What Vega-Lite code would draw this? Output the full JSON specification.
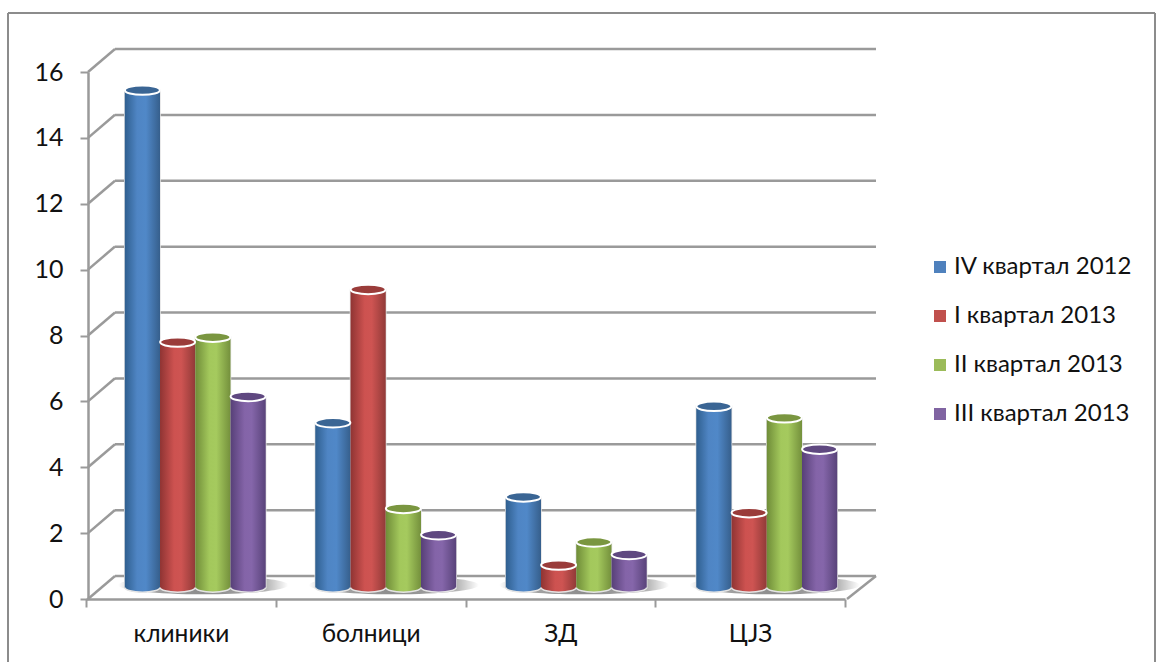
{"$schema":"https://vega.github.io/schema/vega-lite/v6.json","width":1147,"height":649,"padding":{"left":8,"top":13,"right":4,"bottom":0},"autosize":{"type":"none"},"background":"white","view":{"stroke":null},"config":{"font":"Lato","axis":{"grid":false,"title":null,"labelFont":"Lato","labelColor":"#111"}},"datasets":{"bars":[{"cat":"клиники","q":"IV квартал 2012","v":15.1},{"cat":"клиники","q":"I квартал 2013","v":7.45},{"cat":"клиники","q":"II квартал 2013","v":7.6},{"cat":"клиники","q":"III квартал 2013","v":5.8},{"cat":"болници","q":"IV квартал 2012","v":5.0},{"cat":"болници","q":"I квартал 2013","v":9.05},{"cat":"болници","q":"II квартал 2013","v":2.4},{"cat":"болници","q":"III квартал 2013","v":1.6},{"cat":"ЗД","q":"IV квартал 2012","v":2.75},{"cat":"ЗД","q":"I квартал 2013","v":0.68},{"cat":"ЗД","q":"II квартал 2013","v":1.38},{"cat":"ЗД","q":"III квартал 2013","v":1.0},{"cat":"ЦЈЗ","q":"IV квартал 2012","v":5.5},{"cat":"ЦЈЗ","q":"I квартал 2013","v":2.27},{"cat":"ЦЈЗ","q":"II квартал 2013","v":5.15},{"cat":"ЦЈЗ","q":"III квартал 2013","v":4.2}],"levels":[{"level":0,"back":0.7},{"level":2,"back":2.7},{"level":4,"back":4.7},{"level":6,"back":6.7},{"level":8,"back":8.7},{"level":10,"back":10.7},{"level":12,"back":12.7},{"level":14,"back":14.7},{"level":16,"back":16.7}],"frame":[{"a":0,"b":0,"c":0,"d":1},{"a":0,"b":1,"c":0,"d":0},{"a":1,"b":1,"c":0,"d":1}],"cats":[{"cat":"клиники"},{"cat":"болници"},{"cat":"ЗД"},{"cat":"ЦЈЗ"}]},"resolve":{"scale":{"x":"independent","y":"independent","xOffset":"independent"}},"layer":[{"data":{"name":"frame"},"mark":{"type":"rule","color":"#8c8c8c","strokeWidth":2,"clip":false},"encoding":{"x":{"field":"a","type":"quantitative","axis":null,"scale":{"domain":[0,1],"range":[0,1147],"nice":false,"zero":false}},"x2":{"field":"b"},"y":{"field":"c","type":"quantitative","axis":null,"scale":{"domain":[0,1],"range":[0,649],"nice":false,"zero":false}},"y2":{"field":"d"}}},{"data":{"name":"levels"},"mark":{"type":"rule","color":"#9a9a9a","strokeWidth":2.5},"encoding":{"x":{"datum":0,"type":"quantitative","axis":null,"scale":{"domain":[0,1],"range":[107,868],"nice":false,"zero":false}},"x2":{"datum":1},"y":{"field":"level","type":"quantitative","axis":null,"scale":{"domain":[0,16],"range":[563,36],"nice":false,"zero":false}}}},{"data":{"name":"levels"},"mark":{"type":"rule","color":"#9a9a9a","strokeWidth":2.5},"encoding":{"x":{"datum":0,"type":"quantitative","axis":null,"scale":{"domain":[0,1],"range":[80,107],"nice":false,"zero":false}},"x2":{"datum":1},"y":{"field":"level","type":"quantitative","scale":{"domain":[0,16],"range":[586,59],"nice":false,"zero":false},"axis":{"orient":"left","offset":-80,"values":[0,2,4,6,8,10,12,14,16],"tickSize":8,"tickWidth":2,"tickColor":"#9a9a9a","domainColor":"#9a9a9a","domainWidth":2.5,"labelFontSize":25,"labelPadding":17}},"y2":{"field":"back"}}},{"data":{"values":[{"level":0,"back":0.7}]},"mark":{"type":"rule","color":"#9a9a9a","strokeWidth":2.5},"encoding":{"x":{"datum":0,"type":"quantitative","axis":null,"scale":{"domain":[0,1],"range":[839,868],"nice":false,"zero":false}},"x2":{"datum":1},"y":{"field":"level","type":"quantitative","axis":null,"scale":{"domain":[0,16],"range":[586,59],"nice":false,"zero":false}},"y2":{"field":"back"}}},{"data":{"name":"cats"},"mark":{"type":"rule","opacity":0},"encoding":{"x":{"field":"cat","type":"nominal","sort":null,"scale":{"domain":["клиники","болници","ЗД","ЦЈЗ"],"range":[78,837]},"axis":{"orient":"bottom","offset":-63,"labelAngle":0,"tickBand":"extent","tickSize":8,"tickWidth":2,"tickColor":"#9a9a9a","domainColor":"#9a9a9a","domainWidth":2.5,"labelFontSize":24.5,"labelPadding":15}}}},{"data":{"name":"cats"},"mark":{"type":"point","filled":true,"opacity":1,"shape":"M-1,0A1,0.11,0,1,1,1,0A1,0.11,0,1,1,-1,0Z","fill":{"gradient":"radial","x1":0.5,"y1":0.5,"r1":0,"x2":0.5,"y2":0.5,"r2":0.5,"stops":[{"offset":0,"color":"#8a8a8a"},{"offset":0.7,"color":"#a8a8a8"},{"offset":1,"color":"#ffffff"}]}},"encoding":{"x":{"field":"cat","type":"nominal","sort":null,"axis":null,"scale":{"domain":["клиники","болници","ЗД","ЦЈЗ"],"range":[100,862]}},"y":{"datum":0,"type":"quantitative","axis":null,"scale":{"domain":[0,16],"range":[572,45],"nice":false,"zero":false}},"size":{"value":28900}}},{"data":{"name":"bars"},"mark":{"type":"bar","stroke":"#e4e4e4","strokeWidth":1.5},"encoding":{"x":{"field":"cat","type":"nominal","sort":null,"axis":null,"scale":{"domain":["клиники","болници","ЗД","ЦЈЗ"],"range":[92,854],"paddingInner":0.26,"paddingOuter":0.13}},"xOffset":{"field":"q","type":"nominal","sort":null,"scale":{"domain":["IV квартал 2012","I квартал 2013","II квартал 2013","III квартал 2013"]}},"y":{"field":"v","type":"quantitative","axis":null,"scale":{"domain":[0,16],"range":[574.5,47.5],"nice":false,"zero":false}},"fill":{"field":"q","type":"nominal","sort":null,"scale":{"domain":["IV квартал 2012","I квартал 2013","II квартал 2013","III квартал 2013"],"range":["#4f81bd","#c0504d","#9bbb59","#8064a2"]},"legend":{"title":null,"orient":"none","legendX":920,"legendY":242,"symbolType":"square","symbolSize":144,"symbolStrokeWidth":0,"labelFont":"Lato","labelFontSize":24,"labelColor":"#111","labelOffset":2,"rowPadding":25,"labelLimit":220}}}},{"data":{"name":"bars"},"mark":{"type":"point","filled":true,"opacity":1,"shape":"M-1,0A1,0.27,0,1,1,1,0A1,0.27,0,1,1,-1,0Z","stroke":"#e4e4e4","strokeWidth":1.5},"encoding":{"x":{"field":"cat","type":"nominal","sort":null,"axis":null,"scale":{"domain":["клиники","болници","ЗД","ЦЈЗ"],"range":[92,854],"paddingInner":0.26,"paddingOuter":0.13}},"xOffset":{"field":"q","type":"nominal","sort":null,"scale":{"domain":["IV квартал 2012","I квартал 2013","II квартал 2013","III квартал 2013"]}},"y":{"datum":0,"type":"quantitative","axis":null,"scale":{"domain":[0,16],"range":[574.5,47.5],"nice":false,"zero":false}},"size":{"value":1225},"fill":{"condition":[{"test":"datum.q==='IV квартал 2012'","value":{"gradient":"linear","x1":0,"y1":0,"x2":1,"y2":0,"stops":[{"offset":0,"color":"#2f5f8f"},{"offset":0.35,"color":"#4f85c4"},{"offset":0.6,"color":"#5088c8"},{"offset":1,"color":"#365f8c"}]}},{"test":"datum.q==='I квартал 2013'","value":{"gradient":"linear","x1":0,"y1":0,"x2":1,"y2":0,"stops":[{"offset":0,"color":"#8f3433"},{"offset":0.4,"color":"#cd5250"},{"offset":0.6,"color":"#ce5452"},{"offset":1,"color":"#913a38"}]}},{"test":"datum.q==='II квартал 2013'","value":{"gradient":"linear","x1":0,"y1":0,"x2":1,"y2":0,"stops":[{"offset":0,"color":"#6f8c38"},{"offset":0.4,"color":"#a3c85c"},{"offset":0.6,"color":"#a5ca5e"},{"offset":1,"color":"#74903c"}]}}],"value":{"gradient":"linear","x1":0,"y1":0,"x2":1,"y2":0,"stops":[{"offset":0,"color":"#574078"},{"offset":0.4,"color":"#8464a8"},{"offset":0.6,"color":"#8566aa"},{"offset":1,"color":"#59437a"}]}}}},{"data":{"name":"bars"},"mark":{"type":"bar","stroke":null},"encoding":{"x":{"field":"cat","type":"nominal","sort":null,"axis":null,"scale":{"domain":["клиники","болници","ЗД","ЦЈЗ"],"range":[92,854],"paddingInner":0.26,"paddingOuter":0.13}},"xOffset":{"field":"q","type":"nominal","sort":null,"scale":{"domain":["IV квартал 2012","I квартал 2013","II квартал 2013","III квартал 2013"]}},"y":{"field":"v","type":"quantitative","axis":null,"scale":{"domain":[0,16],"range":[574.5,47.5],"nice":false,"zero":false}},"fill":{"condition":[{"test":"datum.q==='IV квартал 2012'","value":{"gradient":"linear","x1":0,"y1":0,"x2":1,"y2":0,"stops":[{"offset":0,"color":"#2f5f8f"},{"offset":0.35,"color":"#4f85c4"},{"offset":0.6,"color":"#5088c8"},{"offset":1,"color":"#365f8c"}]}},{"test":"datum.q==='I квартал 2013'","value":{"gradient":"linear","x1":0,"y1":0,"x2":1,"y2":0,"stops":[{"offset":0,"color":"#8f3433"},{"offset":0.4,"color":"#cd5250"},{"offset":0.6,"color":"#ce5452"},{"offset":1,"color":"#913a38"}]}},{"test":"datum.q==='II квартал 2013'","value":{"gradient":"linear","x1":0,"y1":0,"x2":1,"y2":0,"stops":[{"offset":0,"color":"#6f8c38"},{"offset":0.4,"color":"#a3c85c"},{"offset":0.6,"color":"#a5ca5e"},{"offset":1,"color":"#74903c"}]}}],"value":{"gradient":"linear","x1":0,"y1":0,"x2":1,"y2":0,"stops":[{"offset":0,"color":"#574078"},{"offset":0.4,"color":"#8464a8"},{"offset":0.6,"color":"#8566aa"},{"offset":1,"color":"#59437a"}]}}}},{"data":{"name":"bars"},"mark":{"type":"point","filled":true,"opacity":1,"shape":"M-1,0A1,0.27,0,1,1,1,0A1,0.27,0,1,1,-1,0Z","stroke":"#ffffff","strokeWidth":2},"encoding":{"x":{"field":"cat","type":"nominal","sort":null,"axis":null,"scale":{"domain":["клиники","болници","ЗД","ЦЈЗ"],"range":[92,854],"paddingInner":0.26,"paddingOuter":0.13}},"xOffset":{"field":"q","type":"nominal","sort":null,"scale":{"domain":["IV квартал 2012","I квартал 2013","II квартал 2013","III квартал 2013"]}},"y":{"field":"v","type":"quantitative","axis":null,"scale":{"domain":[0,16],"range":[574.5,47.5],"nice":false,"zero":false}},"size":{"value":1225},"fill":{"condition":[{"test":"datum.q==='IV квартал 2012'","value":"#3a6594"},{"test":"datum.q==='I квартал 2013'","value":"#9a3c3a"},{"test":"datum.q==='II квартал 2013'","value":"#7a9640"}],"value":"#5f4880"}}}]}
